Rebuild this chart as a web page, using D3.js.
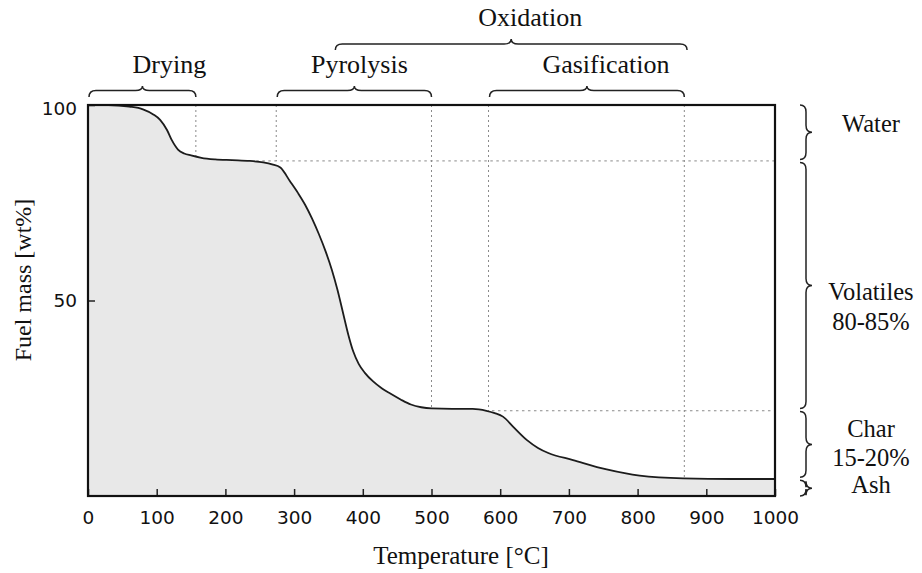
<!DOCTYPE html>
<html>
<head>
<meta charset="utf-8">
<script src="https://cdn.jsdelivr.net/npm/d3@7"></script>
<style>
  html, body { margin: 0; padding: 0; background: #fff; }
  svg { display: block; }
</style>
</head>
<body>
<svg id="chart" width="922" height="573"></svg>
<script>
// ---- data ----
const temperature = [0, 30, 60, 80, 95, 105, 115, 122, 131, 140, 150, 165, 185, 210, 235, 255, 268, 280,
  294, 306, 316, 326, 336, 346, 355, 363, 371, 379, 386, 394, 403, 415, 428, 440, 455, 470, 485, 500,
  530, 560, 580, 592, 604, 619, 639, 655, 670, 706, 755, 803, 866, 940, 1000];
const fuelMass = [100, 100, 99.6, 98.9, 97.6, 96.2, 93.6, 91, 88.6, 87.6, 87.1, 86.5, 86.1, 85.9, 85.7, 85.3, 84.8, 84,
  80.5, 77.4, 74.5, 71, 67, 62.5, 57.8, 52.8, 47, 41.2, 37, 33.8, 31.5, 29.3, 27.5, 26.2, 24.7, 23.4, 22.7, 22.4,
  22.3, 22.3, 21.8, 21.2, 20.3, 17.7, 14.3, 12.3, 11, 9.2, 6.8, 5.2, 4.5, 4.35, 4.35];

const xTicks = [0, 100, 200, 300, 400, 500, 600, 700, 800, 900, 1000];
const yTicks = [50, 100];

// stages along temperature (top braces)
const stageNames = ["Drying", "Pyrolysis", "Gasification"];
const stageStart = [0, 274, 583];
const stageEnd = [157, 500, 868];
const oxidationName = "Oxidation";
const oxidationRange = [360, 872];

// composition along mass (right braces)
const compNames = [["Water"], ["Volatiles", "80-85%"], ["Char", "15-20%"], ["Ash"]];
const compTop = [100, 85.7, 22, 4.4];
const compBottom = [85.7, 22, 4.4, 0];

// guide lines
const waterLevel = 85.7;
const charLevel = 21.8;
const guideTemps = [157, 274, 500, 583, 868];
const guideDownTo = ["curve", "water", "curve", "char", "curve"];

// ---- drawing ----
const svg = d3.select("#chart");
const L = 88, R = 775, T = 105, B = 496;
const x = d3.scaleLinear().domain([0, 1000]).range([L, R]);
const y = d3.scaleLinear().domain([0, 100]).range([B, T]);

function massAt(t) {
  const i = d3.bisector(d => d).left(temperature, t);
  if (i <= 0) return fuelMass[0];
  if (i >= temperature.length) return fuelMass[fuelMass.length - 1];
  const t0 = temperature[i - 1], t1 = temperature[i];
  const f = (t - t0) / (t1 - t0);
  return fuelMass[i - 1] + f * (fuelMass[i] - fuelMass[i - 1]);
}

const pts = temperature.map((t, i) => [t, fuelMass[i]]);
const area = d3.area().x(d => x(d[0])).y0(y(0)).y1(d => y(d[1])).curve(d3.curveMonotoneX);
const line = d3.line().x(d => x(d[0])).y(d => y(d[1])).curve(d3.curveMonotoneX);

svg.append("path").attr("d", area(pts)).attr("fill", "#e8e8e8");

// guides
const g = svg.append("g").attr("stroke", "#8a8a8a").attr("stroke-width", 1).attr("fill", "none");
g.append("line").attr("x1", x(245)).attr("x2", x(1000)).attr("y1", y(waterLevel)).attr("y2", y(waterLevel))
  .attr("stroke-dasharray", "2.5,3.5");
g.append("line").attr("x1", x(588)).attr("x2", x(1000)).attr("y1", y(charLevel)).attr("y2", y(charLevel))
  .attr("stroke-dasharray", "2.5,3.5");
guideTemps.forEach((t, i) => {
  const k = guideDownTo[i];
  const m = k === "curve" ? massAt(t) : (k === "water" ? waterLevel : charLevel);
  g.append("line").attr("x1", x(t)).attr("x2", x(t)).attr("y1", y(100)).attr("y2", y(m))
    .attr("stroke-dasharray", "2,3");
});

svg.append("path").attr("d", line(pts)).attr("fill", "none").attr("stroke", "#1c1c1c").attr("stroke-width", 1.8);

// axes
const xAxis = svg.append("g").attr("transform", `translate(0,${B})`)
  .call(d3.axisBottom(x).tickValues(xTicks).tickSize(-7).tickPadding(15).tickFormat(d3.format("d")));
const yAxis = svg.append("g").attr("transform", `translate(${L},0)`)
  .call(d3.axisLeft(y).tickValues(yTicks).tickSize(-7).tickPadding(11).tickFormat(d3.format("d")));
[xAxis, yAxis].forEach(a => {
  a.select(".domain").remove();
  a.selectAll(".tick line").attr("stroke", "#222").attr("stroke-width", 1.5);
  a.selectAll(".tick text").attr("fill", "#111").style("font-family", "'DejaVu Sans', Verdana, sans-serif").style("font-size", "18.5px");
});
yAxis.selectAll(".tick text").filter(d => d === 100).attr("dy", "0.5em");

// frame
svg.append("rect").attr("x", L).attr("y", T).attr("width", R - L).attr("height", B - T)
  .attr("fill", "none").attr("stroke", "#111").attr("stroke-width", 2.2);

// axis titles
const serif = "'Liberation Serif', 'Times New Roman', serif";
svg.append("text").attr("x", 461).attr("y", 564).attr("text-anchor", "middle")
  .style("font-family", serif).style("font-size", "25px").attr("fill", "#111").text("Temperature [°C]");
svg.append("text").attr("transform", "translate(31,280) rotate(-90)").attr("text-anchor", "middle")
  .style("font-family", serif).style("font-size", "24px").attr("fill", "#111").text("Fuel mass [wt%]");

// braces
function hBrace(x1, x2, yEnd, yLine, yTip) {
  const xm = (x1 + x2) / 2, r = 7;
  return `M${x1},${yEnd} Q${x1},${yLine} ${x1 + r},${yLine} L${xm - r},${yLine} Q${xm},${yLine} ${xm},${yTip}` +
    ` Q${xm},${yLine} ${xm + r},${yLine} L${x2 - r},${yLine} Q${x2},${yLine} ${x2},${yEnd}`;
}
function vBrace(y1, y2, xEnd, xLine, xTip) {
  const ym = (y1 + y2) / 2, r = 7;
  return `M${xEnd},${y1} Q${xLine},${y1} ${xLine},${y1 + r} L${xLine},${ym - r} Q${xLine},${ym} ${xTip},${ym}` +
    ` Q${xLine},${ym} ${xLine},${ym + r} L${xLine},${y2 - r} Q${xLine},${y2} ${xEnd},${y2}`;
}
const bstyle = s => s.attr("fill", "none").attr("stroke", "#222").attr("stroke-width", 1.5);

const stageDx = [27, 5, 19];
stageNames.forEach((n, i) => {
  const x1 = x(stageStart[i]) + 1, x2 = x(stageEnd[i]);
  svg.append("path").attr("d", hBrace(x1, x2, 97, 90.5, 86)).call(bstyle);
  svg.append("text").attr("x", (x1 + x2) / 2 + stageDx[i]).attr("y", 73).attr("text-anchor", "middle")
    .style("font-family", serif).style("font-size", "26px").attr("fill", "#111").text(n);
});
{
  const x1 = x(oxidationRange[0]), x2 = x(oxidationRange[1]);
  svg.append("path").attr("d", hBrace(x1, x2, 50, 44, 39)).call(bstyle);
  svg.append("text").attr("x", (x1 + x2) / 2 + 19).attr("y", 26).attr("text-anchor", "middle")
    .style("font-family", serif).style("font-size", "26px").attr("fill", "#111").text(oxidationName);
}

const compDy = [[-1], [14.5, 44.5], [-7.5, 21.5], [5.5]];
compNames.forEach((lines, i) => {
  const y1 = y(compTop[i]) + (i === 0 ? 0 : 1.5), y2 = y(compBottom[i]) - (i === 3 ? 0 : 1.5);
  svg.append("path").attr("d", vBrace(y1, y2, 800, 806, 812)).call(bstyle);
  const ym = (y(compTop[i]) + y(compBottom[i])) / 2;
  lines.forEach((s, j) => {
    svg.append("text").attr("x", 871).attr("y", ym + compDy[i][j]).attr("text-anchor", "middle")
      .style("font-family", serif).style("font-size", "24.5px").attr("fill", "#111").text(s);
  });
});
</script>
</body>
</html>
